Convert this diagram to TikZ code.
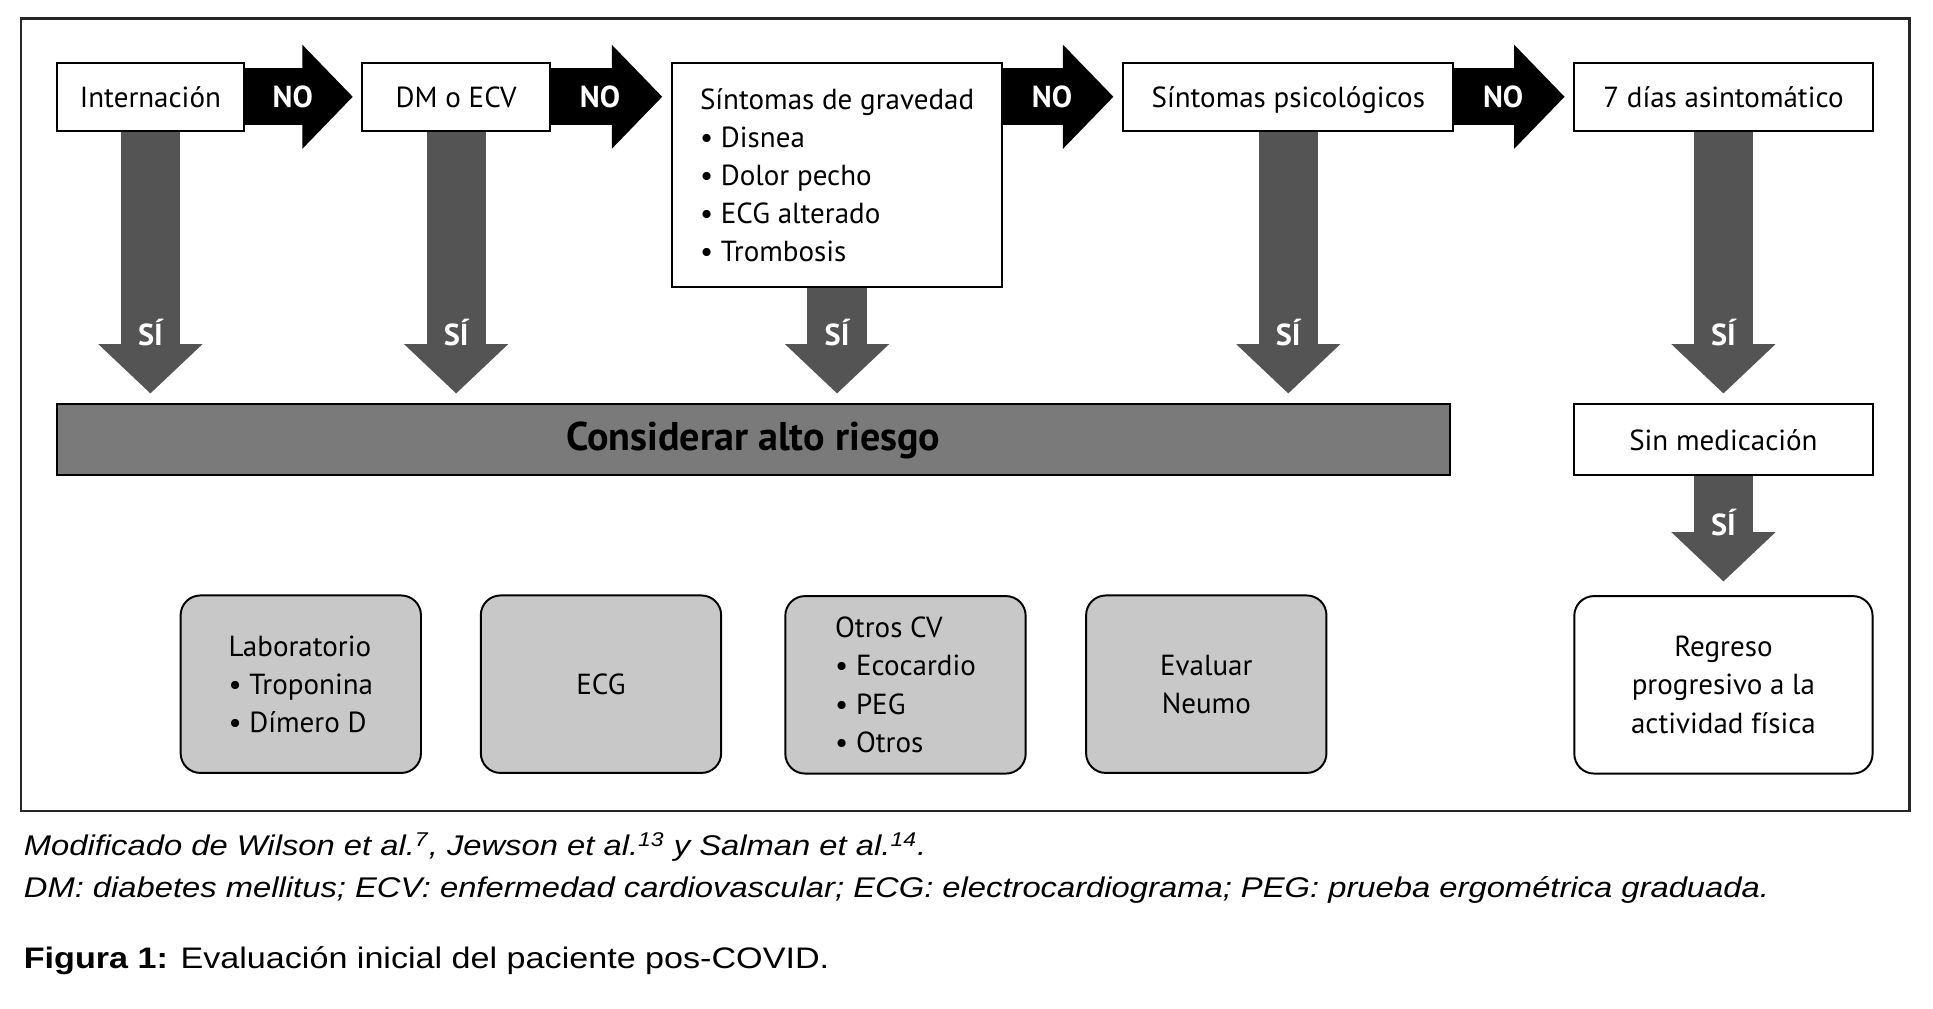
\documentclass[tikz,border=0pt]{standalone}
\usepackage{fontspec}
\setmainfont{PT Sans}
\newfontfamily\capfont[FakeStretch=1.15]{Liberation Sans}
\usetikzlibrary{arrows.meta}
\definecolor{sigris}{HTML}{545454}
\definecolor{barra}{HTML}{7A7A7A}
\definecolor{caja}{HTML}{C8C8C8}

\begin{document}
\begin{tikzpicture}[x=0.02cm, y=-0.02cm,
	box/.style={draw, line width=0.9pt, fill=white, inner sep=0pt, font=\fontsize{13.4}{17.6}\selectfont},
	linea/.style={text height=9.8pt, text depth=0pt},
	rbox/.style={box, rounded corners=0.32cm, fill=caja, minimum width=3.9cm, minimum height=2.88cm},
	no/.style={line width=0.92cm, black, -{Triangle[length=0.82cm, width=1.64cm]}, shorten >=0.14cm},
	si/.style={line width=0.96cm, sigris, -{Triangle[length=0.8cm, width=1.64cm]}, shorten >=0.16cm},
	etiq/.style={text=white, font=\bfseries\fontsize{14}{16}\selectfont},
	leyenda/.style={anchor=west, inner sep=0pt}]
	\useasboundingbox (0,0) rectangle (1568,818);
	\draw[line width=1.1pt, black!85] (17,15) rectangle (1549,658);

	% fila de arriba
	\node[box, linea, minimum width=3.04cm, minimum height=1.1cm] (intern) at (122,78.5) {Internación};
	\node[box, linea, minimum width=3.04cm, minimum height=1.1cm] (dm) at (370,78.5) {DM o ECV};
	\node[box, minimum width=5.36cm, minimum height=3.64cm, align=left] (grav) at (679,142)
		{Síntomas de gravedad\\ • Disnea\\ • Dolor pecho\\ • ECG alterado\\ • Trombosis};
	\node[box, linea, minimum width=5.36cm, minimum height=1.1cm] (psic) at (1045,78.5) {Síntomas psicológicos};
	\node[box, linea, minimum width=4.84cm, minimum height=1.1cm] (dias) at (1398,78.5) {7 días asintomático};

	\node[box, linea, fill=barra, minimum width=22.6cm, minimum height=1.14cm, font=\bfseries\fontsize{18.5}{20}\selectfont] (riesgo) at (611,356.5) {Considerar alto riesgo};
	\node[box, linea, minimum width=4.84cm, minimum height=1.14cm] (sinmed) at (1398,356.5) {Sin medicación};

	% fila de abajo
	\node[rbox, align=left] (lab) at (244,555) {Laboratorio\\ • Troponina\\ • Dímero D};
	\node[rbox, linea] (ecg) at (487.5,555) {ECG};
	\node[rbox, align=left] (otros) at (734.5,555.5) {Otros CV\\ • Ecocardio\\ • PEG\\ • Otros};
	\node[rbox, align=center] (neumo) at (978.5,555) {Evaluar\\ Neumo};
	\node[rbox, fill=white, minimum width=4.84cm, align=center] (regreso) at (1398,555.5) {Regreso\\ progresivo a la\\ actividad física};

	% NO
	\draw[no] (intern) -- (dm) node[pos=0.41, etiq] {NO};
	\draw[no] (dm) -- (grav.west |- dm) node[pos=0.41, etiq] {NO};
	\draw[no] (grav.east |- psic) -- (psic) node[pos=0.41, etiq] {NO};
	\draw[no] (psic) -- (dias) node[pos=0.41, etiq] {NO};

	% SI
	\draw[si] (intern.south) -- (intern.south |- riesgo.north) node[pos=1, yshift=1.15cm, etiq] {SÍ};
	\draw[si] (dm.south) -- (dm.south |- riesgo.north) node[pos=1, yshift=1.15cm, etiq] {SÍ};
	\draw[si] (grav.south) -- (grav.south |- riesgo.north) node[pos=1, yshift=1.15cm, etiq] {SÍ};
	\draw[si] (psic.south) -- (psic.south |- riesgo.north) node[pos=1, yshift=1.15cm, etiq] {SÍ};
	\draw[si] (dias) -- (sinmed) node[pos=1, yshift=1.15cm, etiq] {SÍ};
	\draw[si, shorten >=0.22cm] (sinmed) -- (regreso) node[pos=1, yshift=1.18cm, etiq] {SÍ};

	% leyenda
	\node[leyenda, font=\capfont\itshape\fontsize{13.15}{15}\selectfont] (fuente) at (19,687)
		{Modificado de Wilson et al.\textsuperscript{7}, Jewson et al.\textsuperscript{13} y Salman et al.\textsuperscript{14}.};
	\node[leyenda, font=\capfont\itshape\fontsize{13.15}{15}\selectfont] (abrev) at (19,722)
		{DM: diabetes mellitus; ECV: enfermedad cardiovascular; ECG: electrocardiograma; PEG: prueba ergométrica graduada.};
	\node[leyenda, font=\capfont\fontsize{13.7}{16}\selectfont] (figura) at (19,779)
		{\textbf{Figura 1:} Evaluación inicial del paciente pos-COVID.};
\end{tikzpicture}
\end{document}
